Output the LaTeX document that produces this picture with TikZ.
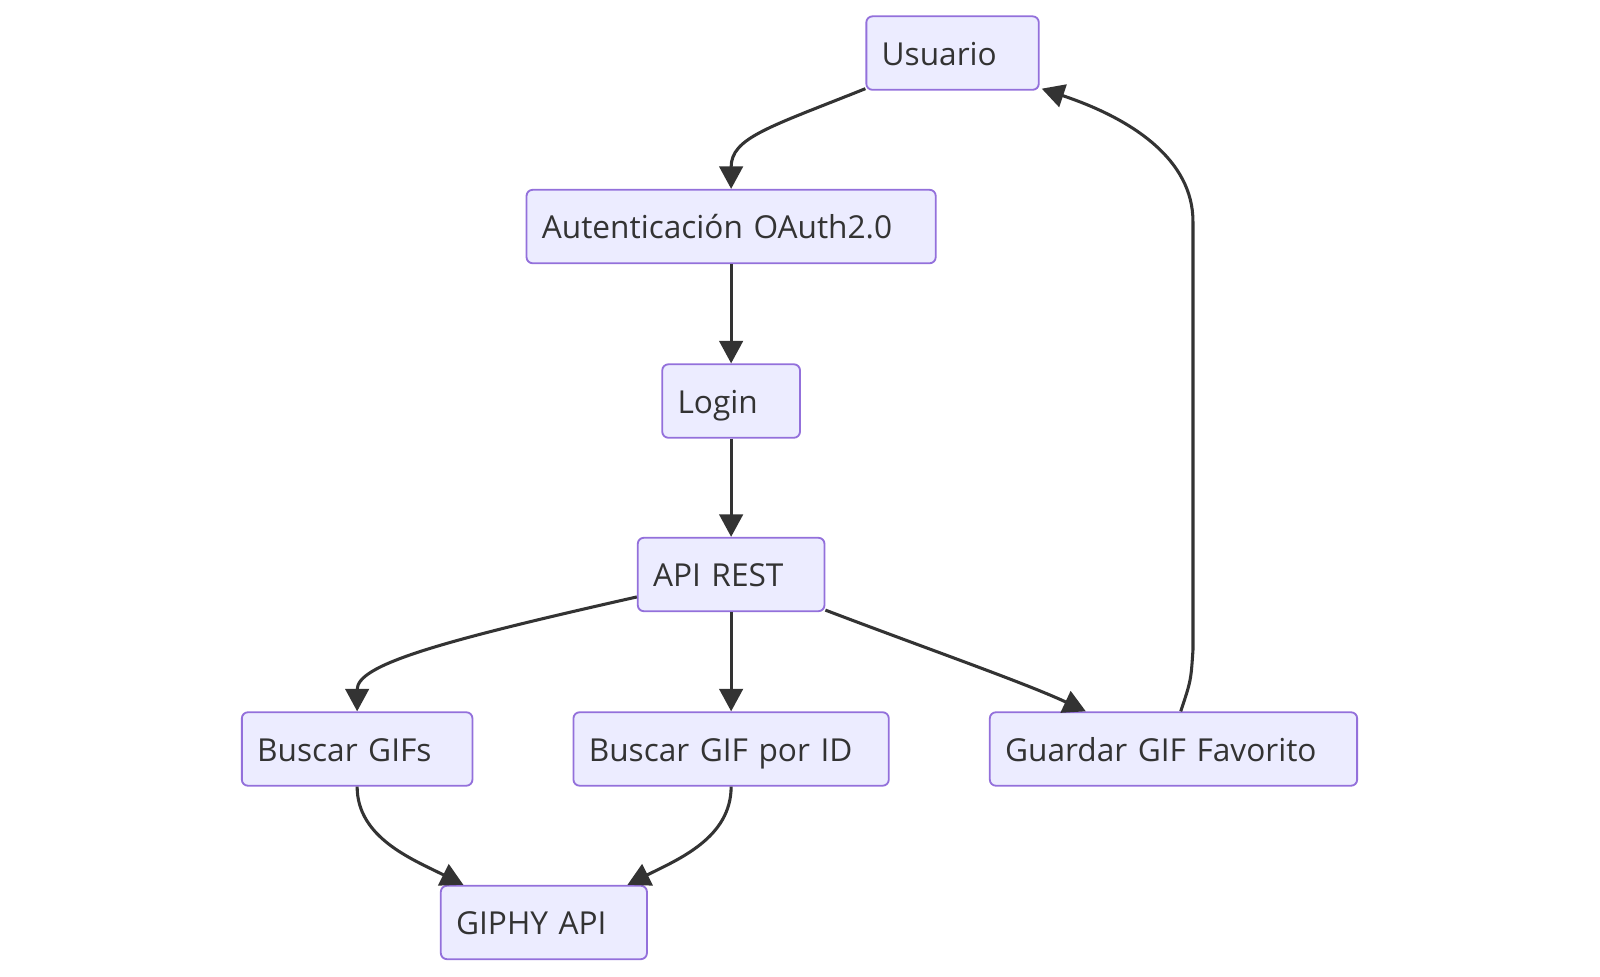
\documentclass[tikz,border=0pt]{standalone}
\usepackage{fontspec}
\setmainfont{Open Sans}
\usetikzlibrary{arrows.meta,calc}
\definecolor{nodefill}{HTML}{ECECFF}
\definecolor{nodeline}{HTML}{9370DB}
\definecolor{ink}{HTML}{333333}
\tikzset{
  box/.style={draw=nodeline, fill=nodefill, line width=1.8pt, rounded corners=6pt,
    minimum height=72pt, inner xsep=15pt, inner ysep=0pt, align=left,
    text height=30pt, text depth=6pt,
    text=ink, font=\fontsize{31}{36}\selectfont},
  edge/.style={draw=ink, line width=3pt, -{Triangle[length=22pt,width=23pt]}}
}
\begin{document}
\begin{tikzpicture}[x=1pt,y=-1pt]
\useasboundingbox (0,0) rectangle (1568,956.5);
\node[box, text width=139pt] (usr) at (933.5,52) {Usuario};
\node[box, text width=371pt] (auth) at (716.5,222) {Autenticación OAuth2.0};
\node[box, text width=105pt] (login) at (716.5,393) {Login};
\node[box, text width=153pt] (api) at (716.5,563) {API REST};
\node[box, text width=196pt] (bg) at (350,734) {Buscar GIFs};
\node[box, text width=279pt] (bid) at (716.5,734) {Buscar GIF por ID};
\node[box, text width=330pt] (gd) at (1150,734) {Guardar GIF Favorito};
\node[box, text width=172pt] (giphy) at (533,904) {GIPHY API};

\draw[edge] ($(usr.south west)+(0,-2)$) .. controls +(-95,38) and +(0,-50) .. (auth.north);
\draw[edge] (auth.south) -- (login.north);
\draw[edge] (login.south) -- (api.north);
\draw[edge] ($(api.west)+(0,22)$) .. controls +(-200,45) and +(0,-45) .. (bg.north);
\draw[edge] (api.south) -- (bid.north);
\draw[edge] ($(api.south east)+(0,-2)$) .. controls +(100,38) and +(-60,-28) .. ($(gd.north west)+(95,0)$);
\draw[edge] ($(gd.north west)+(188,0)$) .. controls +(10,-30) .. ($(gd.north west)+(200,-60)$)
  -- ($(gd.north west)+(200,-480)$) .. controls +(0,-60) and +(90,30) .. ($(usr.south east)+(2,-2)$);
\draw[edge] (bg.south) .. controls +(0,50) and +(-50,-25) .. ($(giphy.north west)+(23,0)$);
\draw[edge] (bid.south) .. controls +(0,50) and +(50,-25) .. ($(giphy.north east)+(-20,0)$);
\end{tikzpicture}
\end{document}
